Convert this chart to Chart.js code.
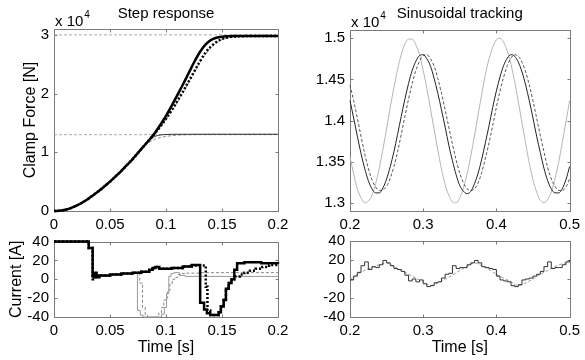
<!DOCTYPE html>
<html>
<head>
<meta charset="utf-8">
<script src="https://cdn.jsdelivr.net/npm/chart.js@4.4.1/dist/chart.umd.min.js"></script>
<style>
  html, body { margin: 0; padding: 0; background: #fff; }
  #fig { position: relative; width: 585px; height: 360px; overflow: hidden; }
  #fig canvas { position: absolute; left: 0; top: 0; }
</style>
</head>
<body>
<div id="fig">
  <canvas id="stepForce" width="585" height="360"></canvas>
  <canvas id="sinForce" width="585" height="360"></canvas>
  <canvas id="stepCurrent" width="585" height="360"></canvas>
  <canvas id="sinCurrent" width="585" height="360"></canvas>
</div>
<script>
// Step response, clamp force (x 10^4 N)
const stepT = [0, 0.005, 0.01, 0.015, 0.02, 0.025, 0.03, 0.035, 0.04, 0.045, 0.05, 0.055, 0.06, 0.065, 0.07, 0.075, 0.08, 0.085, 0.09, 0.095,
  0.1, 0.105, 0.11, 0.115, 0.12, 0.125, 0.13, 0.135, 0.14, 0.145, 0.15, 0.155, 0.16, 0.165, 0.17, 0.175, 0.18, 0.185, 0.19, 0.195, 0.2];
const forceThick = [0, 0.005, 0.02, 0.05, 0.09, 0.14, 0.20, 0.27, 0.34, 0.42, 0.50, 0.59, 0.68, 0.78, 0.88, 0.99, 1.10, 1.21, 1.33, 1.47,
  1.62, 1.79, 1.97, 2.15, 2.34, 2.53, 2.70, 2.83, 2.91, 2.95, 2.968, 2.976, 2.98, 2.98, 2.98, 2.98, 2.98, 2.98, 2.98, 2.98, 2.98];
const forceDotted = [0, 0.005, 0.02, 0.05, 0.09, 0.14, 0.20, 0.27, 0.34, 0.42, 0.50, 0.59, 0.68, 0.78, 0.88, 0.99, 1.10, 1.21, 1.32, 1.44,
  1.57, 1.71, 1.87, 2.03, 2.20, 2.37, 2.54, 2.69, 2.80, 2.88, 2.93, 2.955, 2.968, 2.975, 2.978, 2.98, 2.98, 2.98, 2.98, 2.98, 2.98];
const forceThinHigh = [0, 0.005, 0.02, 0.05, 0.09, 0.14, 0.20, 0.27, 0.34, 0.42, 0.50, 0.59, 0.68, 0.78, 0.88, 0.99, 1.10, 1.21, 1.32, 1.43,
  1.56, 1.70, 1.85, 2.01, 2.18, 2.35, 2.52, 2.66, 2.78, 2.86, 2.92, 2.95, 2.965, 2.972, 2.976, 2.978, 2.98, 2.98, 2.98, 2.98, 2.98];
const forceThinLow = [0, 0.005, 0.02, 0.05, 0.09, 0.14, 0.20, 0.27, 0.34, 0.42, 0.50, 0.59, 0.68, 0.78, 0.88, 0.99, 1.10, 1.20, 1.27, 1.295,
  1.303, 1.307, 1.307, 1.307, 1.307, 1.307, 1.307, 1.307, 1.307, 1.307, 1.307, 1.307, 1.307, 1.307, 1.307, 1.307, 1.307, 1.307, 1.307, 1.307, 1.307];
const forceDashLow = [0, 0.005, 0.02, 0.05, 0.09, 0.14, 0.20, 0.27, 0.34, 0.42, 0.50, 0.59, 0.68, 0.78, 0.88, 0.99, 1.09, 1.17, 1.22, 1.25,
  1.27, 1.283, 1.292, 1.297, 1.30, 1.302, 1.304, 1.305, 1.306, 1.306, 1.306, 1.306, 1.306, 1.306, 1.306, 1.306, 1.306, 1.306, 1.306, 1.306, 1.306];
const stepRefs = [3.0, 1.3];
const stepXTicks = [0, 0.05, 0.1, 0.15, 0.2];
const forceYTicks = [0, 1, 2, 3];

// Sinusoidal tracking, clamp force (x 10^4 N)
const sinT = [0.2, 0.205, 0.21, 0.215, 0.22, 0.225, 0.23, 0.235, 0.24, 0.245, 0.25, 0.255, 0.26, 0.265, 0.27, 0.275, 0.28, 0.285, 0.29, 0.295,
  0.3, 0.305, 0.31, 0.315, 0.32, 0.325, 0.33, 0.335, 0.34, 0.345, 0.35, 0.355, 0.36, 0.365, 0.37, 0.375, 0.38, 0.385, 0.39, 0.395,
  0.4, 0.405, 0.41, 0.415, 0.42, 0.425, 0.43, 0.435, 0.44, 0.445, 0.45, 0.455, 0.46, 0.465, 0.47, 0.475, 0.48, 0.485, 0.49, 0.495, 0.5];
const sinRef = [1.356, 1.335, 1.317, 1.306, 1.300, 1.302, 1.309, 1.323, 1.342, 1.365,
  1.390, 1.416, 1.440, 1.462, 1.480, 1.493, 1.499, 1.499, 1.492, 1.480,
  1.461, 1.439, 1.414, 1.389, 1.364, 1.341, 1.322, 1.309, 1.301, 1.300,
  1.306, 1.318, 1.335, 1.357, 1.381, 1.407, 1.432, 1.456, 1.475, 1.489,
  1.498, 1.500, 1.495, 1.484, 1.468, 1.447, 1.423, 1.397, 1.372, 1.348,
  1.328, 1.313, 1.303, 1.300, 1.304, 1.313, 1.329, 1.349, 1.373, 1.398, 1.424];
const sinSolid = [1.424, 1.403, 1.381, 1.360, 1.342, 1.327, 1.317, 1.312, 1.312, 1.318,
  1.329, 1.344, 1.362, 1.383, 1.405, 1.426, 1.445, 1.461, 1.472, 1.479,
  1.480, 1.475, 1.466, 1.451, 1.433, 1.413, 1.392, 1.370, 1.351, 1.334,
  1.321, 1.314, 1.311, 1.314, 1.323, 1.336, 1.353, 1.373, 1.394, 1.416,
  1.436, 1.453, 1.467, 1.476, 1.480, 1.478, 1.471, 1.459, 1.443, 1.424,
  1.403, 1.381, 1.361, 1.342, 1.327, 1.317, 1.312, 1.312, 1.317, 1.328, 1.344];
const sinDashed = [1.443, 1.424, 1.403, 1.381, 1.360, 1.342, 1.328, 1.319, 1.315, 1.316,
  1.320, 1.330, 1.344, 1.362, 1.383, 1.405, 1.426, 1.445, 1.461, 1.472,
  1.479, 1.480, 1.475, 1.466, 1.451, 1.433, 1.413, 1.392, 1.371, 1.352,
  1.336, 1.324, 1.317, 1.315, 1.317, 1.324, 1.337, 1.354, 1.373, 1.394,
  1.416, 1.436, 1.453, 1.467, 1.476, 1.480, 1.478, 1.471, 1.459, 1.443,
  1.424, 1.403, 1.382, 1.362, 1.343, 1.329, 1.320, 1.315, 1.315, 1.319, 1.329];
const sinXTicks = [0.2, 0.3, 0.4, 0.5];
const sinYTicks = [1.3, 1.35, 1.4, 1.45, 1.5];

// Step response, current (A) - stairs
const curThickT = [0, 0.031, 0.0345, 0.036, 0.038, 0.0405, 0.05, 0.06, 0.07, 0.078, 0.085, 0.088, 0.0905, 0.094, 0.097, 0.105, 0.115, 0.123,
  0.1305, 0.134, 0.1365, 0.1395, 0.147, 0.149, 0.1515, 0.1535, 0.156, 0.1585, 0.161, 0.1635, 0.17, 0.185, 0.2];
const curThickI = [40, 33, 3, 7, 2, 4, 5, 6, 7, 8, 10, 12, 13, 11, 11, 12, 13.5, 15,
  -25, -32, -36, -38, -35, -29, -22, -10, -4, 0, 10, 17, 18, 17, 16.5];
const curDotT = [0, 0.031, 0.0345, 0.037, 0.0395, 0.05, 0.06, 0.07, 0.078, 0.085, 0.088, 0.0905, 0.094, 0.097, 0.105, 0.115, 0.123,
  0.1355, 0.137, 0.1395, 0.147, 0.149, 0.1515, 0.1535, 0.156, 0.1585, 0.162, 0.166, 0.17, 0.175, 0.18, 0.186, 0.192, 0.2];
const curDotI = [40, 33, 0, 3, 4, 5, 6, 7, 8, 10, 12, 13, 11, 11, 12, 13.5, 14.5,
  -8, -33, -38, -35, -29, -22, -10, -4, 0, 3, 5, 7, 9, 11, 13, 15, 16];
const curGrayT = [0, 0.031, 0.0345, 0.037, 0.0395, 0.05, 0.06, 0.07, 0.0745, 0.077, 0.0795, 0.096, 0.0985, 0.1005, 0.1025, 0.1045, 0.107,
  0.112, 0.117, 0.2];
const curGrayI = [40, 33, 2, 5, 3, 5, 6, 7, -33, -38, -40, -37, -30, -15, 3, 6, 7, 4, 3, 3];
const curGrayDashT = [0, 0.031, 0.0345, 0.037, 0.0395, 0.05, 0.06, 0.07, 0.0765, 0.079, 0.0815, 0.0835, 0.0935, 0.096, 0.098, 0.1,
  0.1015, 0.1035, 0.1055, 0.108, 0.1105, 0.113, 0.118, 0.13, 0.2];
const curGrayDashI = [40, 33, 2, 5, 3, 5, 6, 7, -4, -30, -38, -40, -36, -30, -22, -20, -12, -5, 0, 2, 5, 6, 6.5, 7, 7];
const curYTicks = [-40, -20, 0, 20, 40];

// Sinusoidal tracking, current (A)
const sinCurI = [-1, 3, 7, 14, 18, 10, 13, 12, 15, 19.5,
  17, 14, 11, 10, 8, 4, -2, 0, -3, -1,
  -5, -8, -7, -4, -3, 1, 5, 6, 14, 11,
  12, 12, 15, 17, 19.5, 17, 13, 12, 11, 10,
  3, -1, -2, -3, -7, -8, -6, -1, 0, 1,
  3, 5, 8, 13, 18, 11, 12, 12, 15, 18, 20];
const sinCurRefT = [0.2, 0.21, 0.22, 0.23, 0.24, 0.25, 0.26, 0.27, 0.28, 0.29, 0.3, 0.31, 0.32, 0.33, 0.34, 0.35,
  0.36, 0.37, 0.38, 0.39, 0.4, 0.41, 0.42, 0.43, 0.44, 0.45, 0.46, 0.47, 0.48, 0.49, 0.5];
const sinCurRef = [0, 5, 9, 12, 15, 17, 13, 9, 5, 1, -3, -7, -4, 0, 4, 9, 13, 17, 14, 10, 5, 1, -3, -7, -4, 0, 5, 9, 13, 16, 18];

const FONT = '"Liberation Sans", Arial, Helvetica, sans-serif';
const tickFont = { family: FONT, size: 15 };
const labelFont = { family: FONT, size: 16 };
Chart.defaults.color = '#000';

const pts = (xs, ys) => xs.map((x, i) => ({ x: x, y: ys[i] }));

// MATLAB style box with inward ticks, plus title and exponent label
const matlabAxes = {
  id: 'matlabAxes',
  beforeDatasetsDraw(chart, args, opts) {
    const { ctx, chartArea: a, scales } = chart;
    const tl = 3;
    ctx.save();
    ctx.strokeStyle = '#7a7a7a';
    ctx.lineWidth = 1;
    ctx.beginPath();
    const l = Math.round(a.left) + 0.5, t = Math.round(a.top) + 0.5;
    const r = Math.round(a.right) + 0.5, b = Math.round(a.bottom) + 0.5;
    ctx.rect(l, t, r - l, b - t);
    scales.x.ticks.forEach(tk => {
      const px = Math.round(scales.x.getPixelForValue(tk.value)) + 0.5;
      ctx.moveTo(px, t); ctx.lineTo(px, t + tl);
      ctx.moveTo(px, b); ctx.lineTo(px, b - tl);
    });
    scales.y.ticks.forEach(tk => {
      const py = Math.round(scales.y.getPixelForValue(tk.value)) + 0.5;
      ctx.moveTo(l, py); ctx.lineTo(l + tl, py);
      ctx.moveTo(r, py); ctx.lineTo(r - tl, py);
    });
    ctx.stroke();
    ctx.restore();
  },
  afterDraw(chart, args, opts) {
    const { ctx, chartArea: a } = chart;
    ctx.save();
    ctx.fillStyle = '#000';
    ctx.textBaseline = 'alphabetic';
    if (opts.title) {
      ctx.font = '15px ' + FONT;
      ctx.textAlign = 'center';
      ctx.fillText(opts.title, (a.left + a.right) / 2, 18);
    }
    if (opts.exponent) {
      ctx.textAlign = 'left';
      ctx.font = '15px ' + FONT;
      ctx.fillText('x 10', a.left + 1, a.top - 3);
      const w = ctx.measureText('x 10').width;
      ctx.font = '10px ' + FONT;
      ctx.fillText(opts.exponent, a.left + 2 + w, a.top - 11);
    }
    ctx.restore();
  }
};

function subplot(id, o) {
  const pad = { left: o.area[0] - o.yW, top: o.area[1], right: 585 - o.area[2], bottom: 360 - o.area[3] - o.xH };
  return new Chart(document.getElementById(id), {
    type: 'line',
    data: { datasets: o.datasets },
    options: {
      responsive: false,
      animation: false,
      events: [],
      layout: { padding: pad },
      elements: { point: { radius: 0 }, line: { fill: false, borderCapStyle: 'butt' } },
      plugins: { legend: { display: false }, tooltip: { enabled: false }, matlabAxes: o.decor },
      scales: {
        x: {
          type: 'linear', min: o.xRange[0], max: o.xRange[1],
          grid: { display: false, drawTicks: false }, border: { display: false },
          ticks: { padding: 5, maxRotation: 0, autoSkip: false, font: tickFont, color: '#000', callback: v => String(v) },
          afterBuildTicks: s => { s.ticks = o.xTicks.map(v => ({ value: v })); },
          afterFit: s => { s.height = o.xH; },
          title: { display: !!o.xTitle, text: o.xTitle || '', padding: 0, font: labelFont, color: '#000' }
        },
        y: {
          type: 'linear', min: o.yRange[0], max: o.yRange[1],
          grid: { display: false, drawTicks: false }, border: { display: false },
          ticks: { padding: 5, autoSkip: false, font: tickFont, color: '#000', callback: v => String(v) },
          afterBuildTicks: s => { s.ticks = o.yTicks.map(v => ({ value: v })); },
          afterFit: s => { s.width = o.yW; },
          title: { display: !!o.yTitle, text: o.yTitle || '', padding: 0, font: labelFont, color: '#000' }
        }
      }
    },
    plugins: [matlabAxes]
  });
}

const smooth = (data, color, width, dash) => ({
  data: data, borderColor: color, borderWidth: width, borderDash: dash || [],
  cubicInterpolationMode: 'monotone', clip: 3
});
const stairs = (data, color, width, dash) => ({
  data: data, borderColor: color, borderWidth: width, borderDash: dash || [],
  stepped: true, clip: 3
});

subplot('stepForce', {
  area: [54, 29, 278, 211], yW: 33, xH: 22,
  xRange: [0, 0.2], yRange: [0, 3.1], xTicks: stepXTicks, yTicks: forceYTicks,
  yTitle: 'Clamp Force [N]',
  decor: { title: 'Step response', exponent: '4' },
  datasets: [
    smooth(pts(stepT, forceThick), '#000', 2.5),
    smooth(pts(stepT, forceDotted), '#000', 2.5, [2, 2]),
    smooth(pts(stepT, forceThinHigh), '#777', 1, [3, 2]),
    smooth(pts(stepT, forceThinLow), '#333', 1),
    smooth(pts(stepT, forceDashLow), '#888', 1, [3, 2]),
    smooth(pts([0, 0.2], [stepRefs[0], stepRefs[0]]), '#aaa', 1, [3, 2]),
    smooth(pts([0, 0.2], [stepRefs[1], stepRefs[1]]), '#aaa', 1, [3, 2])
  ]
});

subplot('sinForce', {
  area: [350, 30, 574, 211], yW: 40, xH: 22,
  xRange: [0.2, 0.5], yRange: [1.29, 1.51], xTicks: sinXTicks, yTicks: sinYTicks,
  decor: { title: 'Sinusoidal tracking', exponent: '4' },
  datasets: [
    smooth(pts(sinT, sinSolid), '#222', 1),
    smooth(pts(sinT, sinDashed), '#555', 1, [3, 2]),
    smooth(pts(sinT, sinRef), '#b4b4b4', 1)
  ]
});

subplot('stepCurrent', {
  area: [54, 241.5, 278, 317], yW: 47, xH: 40,
  xRange: [0, 0.2], yRange: [-40, 40], xTicks: stepXTicks, yTicks: curYTicks,
  xTitle: 'Time [s]', yTitle: 'Current [A]',
  decor: {},
  datasets: [
    stairs(pts(curThickT, curThickI), '#000', 2.5),
    stairs(pts(curDotT, curDotI), '#000', 2.5, [2, 2]),
    stairs(pts(curGrayT, curGrayI), '#999', 1),
    stairs(pts(curGrayDashT, curGrayDashI), '#888', 1, [3, 2])
  ]
});

subplot('sinCurrent', {
  area: [350, 241, 574, 317], yW: 40, xH: 40,
  xRange: [0.2, 0.5], yRange: [-40, 40], xTicks: sinXTicks, yTicks: curYTicks,
  xTitle: 'Time [s]',
  decor: {},
  datasets: [
    stairs(pts(sinT, sinCurI), '#333', 1),
    smooth(pts(sinCurRefT, sinCurRef), '#999', 1, [3, 2])
  ]
});
</script>
</body>
</html>
